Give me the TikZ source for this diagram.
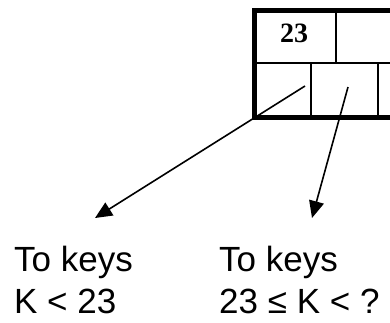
\documentclass[tikz,border=0pt]{standalone}
\usepackage{fontspec}
\setmainfont{Liberation Sans}
\newfontfamily\keyfont{Liberation Serif}
\usetikzlibrary{arrows.meta}
\begin{document}
\begin{tikzpicture}[x=1pt,y=-1pt,
  frame/.style={line width=5pt},
  divider/.style={line width=2pt},
  pointer/.style={line width=1.6pt,-{Triangle[length=17pt,width=15pt]}},
  label/.style={anchor=north west,inner sep=0pt,align=left,
    font=\fontsize{35}{42}\selectfont},
  keytext/.style={inner sep=0pt,font=\keyfont\bfseries\fontsize{28}{28}\selectfont}]
\useasboundingbox (0,0) rectangle (390,322);
\clip (0,0) rectangle (390,322);
% node frame: key row on top, pointer row below
\draw[divider] (254.5,63) -- (400,63);
\draw[divider] (336,10.5) -- (336,63);
\draw[divider] (311,63) -- (311,117.5);
\draw[divider] (378,63) -- (378,117.5);
\draw[frame] (400,10.5) -- (254.5,10.5) -- (254.5,117.5) -- (400,117.5);
% key
\node[keytext,anchor=base] (k1) at (294,42) {23};
% pointer origins
\coordinate (p0) at (305,86);
\coordinate (p1) at (348,87);
% child labels
\node[label] (t0) at (14,246) {To keys\\K < 23};
\node[label] (t1) at (219,246) {To keys\\23 ≤ K < ?};
\coordinate (a0) at (95,218);
\coordinate (a1) at (312,218);
\draw[pointer] (p0) -- (a0);
\draw[pointer] (p1) -- (a1);
\end{tikzpicture}
\end{document}
